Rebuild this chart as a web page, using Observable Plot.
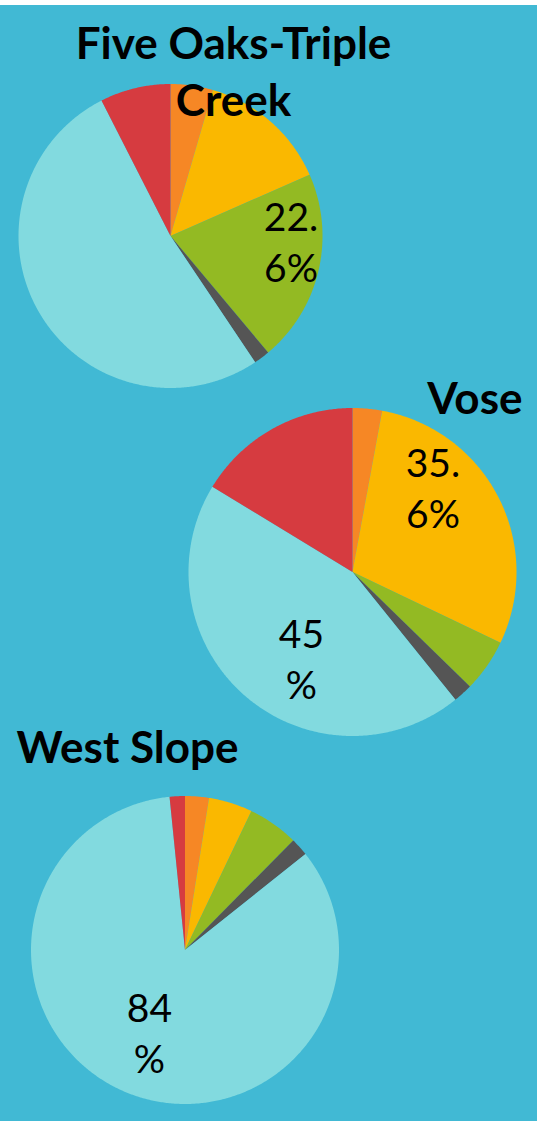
<!DOCTYPE html>
<html><head><meta charset="utf-8">
<script src="https://cdn.jsdelivr.net/npm/d3@7"></script>
<script src="https://cdn.jsdelivr.net/npm/@observablehq/plot@0.6"></script>
<style>
html,body{margin:0;padding:0;background:#ffffff;}
#chart{padding-top:5px;}
#chart svg{display:block;}
</style></head><body><div id="chart"></div>
<script>
// ---- data ----
const categories = ["Series 1", "Series 2", "Series 3", "Series 4", "Series 5", "Series 6"];
const schools = ["Five Oaks-Triple Creek", "Vose", "West Slope"];
const fiveOaksValues = [4.5, 13.9, 20.5, 1.7, 51.9, 7.5];
const voseValues = [2.9, 29.2, 5.2, 1.9, 44.5, 16.3];
const westSlopeValues = [2.5, 4.6, 5.3, 1.9, 84.1, 1.6];
const fiveOaksLabels = ["", "", "22.\n6%", "", "", ""];
const voseLabels = ["", "35.\n6%", "", "", "45\n%", ""];
const westSlopeLabels = ["", "", "", "", "84\n%", ""];

// ---- styles / layout ----
const sliceColors = ["#F68725", "#FAB800", "#93BA23", "#555555", "#82DADF", "#D63B40"];
const background = "#41B9D4";
const pieLayout = [
  {cx: 170, cy: 235.5, r: 152, titleX: 233, titleBaselines: [58, 115], titleAnchor: "middle", titleBreak: 16},
  {cx: 352, cy: 571.5, r: 164, titleX: 522, titleBaselines: [413], titleAnchor: "end", titleBreak: null},
  {cx: 184.5, cy: 949.5, r: 154, titleX: 16, titleBaselines: [762], titleAnchor: "start", titleBreak: null}
];
// label placement: polar angle (deg, clockwise from 12 o'clock) and radius fraction
const labelPlacement = {"0-2": [94, 0.795], "1-1": [44.5, 0.70], "1-4": [209.8, 0.626], "2-4": [202.6, 0.60]};
const titleSize = 44, labelSize = 39, labelLineGap = 51;

// ---- build tables ----
const seriesValues = [fiveOaksValues, voseValues, westSlopeValues];
const seriesLabels = [fiveOaksLabels, voseLabels, westSlopeLabels];
const polys = [], labelRows = [], titleRows = [];
const rad = Math.PI / 180;
seriesValues.forEach((vals, p) => {
  const {cx, cy, r} = pieLayout[p];
  const total = d3.sum(vals);
  let acc = 0;
  vals.forEach((v, i) => {
    const a0 = acc / total * 360, a1 = (acc + v) / total * 360;
    acc += v;
    const key = p + "-" + i;
    polys.push({key, cat: categories[i], x: cx, y: cy});
    const n = Math.max(2, Math.ceil((a1 - a0) / 0.5));
    for (let k = 0; k <= n; k++) {
      const a = (a0 + (a1 - a0) * k / n) * rad;
      polys.push({key, cat: categories[i], x: cx + r * Math.sin(a), y: cy - r * Math.cos(a)});
    }
    const label = seriesLabels[p][i];
    if (label) {
      const [ang, f] = labelPlacement[key] || [(a0 + a1) / 2, 0.65];
      const bx = cx + f * r * Math.sin(ang * rad), by = cy - f * r * Math.cos(ang * rad);
      const lines = label.split("\n");
      lines.forEach((t, j) => {
        labelRows.push({text: t, x: bx, y: by + (j - (lines.length - 1) / 2) * labelLineGap});
      });
    }
  });
  const L = pieLayout[p];
  const name = schools[p];
  const lines = L.titleBreak ? [name.slice(0, L.titleBreak), name.slice(L.titleBreak + 1)] : [name];
  lines.forEach((t, j) => {
    titleRows.push({text: t, x: L.titleX, y: L.titleBaselines[j] - 0.32 * titleSize, anchor: L.titleAnchor});
  });
});

const titleMark = (anchor) => Plot.text(titleRows.filter(d => d.anchor === anchor), {
  x: "x", y: "y", text: "text", textAnchor: anchor, lineAnchor: "middle",
  fontSize: titleSize, fontWeight: "bold", fontFamily: "Lato", fill: "#000000"
});

const chart = Plot.plot({
  width: 537, height: 1116, margin: 0,
  x: {domain: [0, 537], range: [0, 537], axis: null},
  y: {domain: [5, 1121], range: [0, 1116], axis: null},
  color: {domain: categories, range: sliceColors},
  style: {background: background, overflow: "visible"},
  marks: [
    Plot.line(polys, {x: "x", y: "y", z: "key", fill: "cat", stroke: "none", curve: "linear"}),
    Plot.text(labelRows, {x: "x", y: "y", text: "text", lineAnchor: "middle",
      fontSize: labelSize, fontFamily: "Lato", fill: "#000000"}),
    titleMark("middle"), titleMark("end"), titleMark("start")
  ]
});
document.getElementById("chart").appendChild(chart);
</script></body></html>
